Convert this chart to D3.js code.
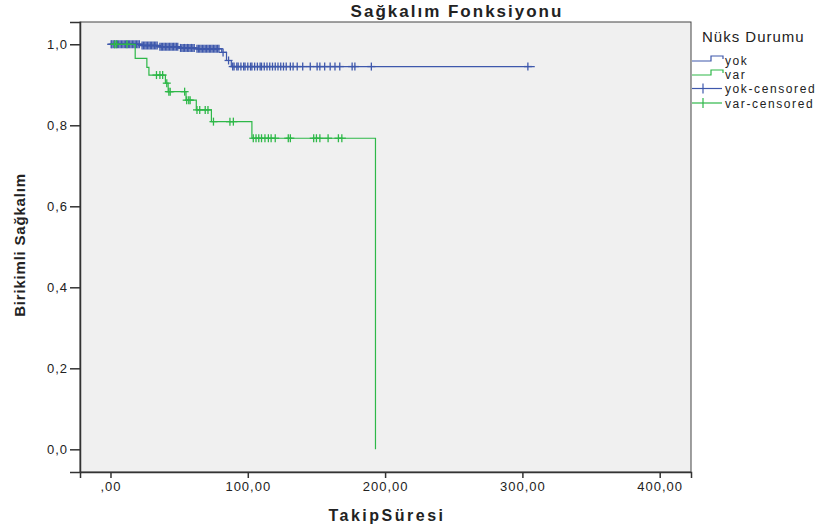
<!DOCTYPE html>
<html>
<head>
<meta charset="utf-8">
<script src="https://cdn.jsdelivr.net/npm/d3@7"></script>
<style>
  body { margin: 0; background: #fff; }
  text { font-family: "Liberation Sans", Arial, sans-serif; fill: #222; }
</style>
</head>
<body>
<svg id="chart"></svg>
<script>
// Kaplan-Meier survival data

// yok group: event times and survival after each step
const yokStepTimes = [0, 22, 35, 50, 62, 81, 84.5, 88];
const yokStepSurv = [1.0, 0.997, 0.994, 0.991, 0.989, 0.980, 0.960, 0.945];
const yokEndTime = 309;
const yokCensored = [0.5, 1, 2, 3, 4, 5, 6, 7, 8, 9, 10, 11, 12, 13, 14, 15, 16, 17, 18, 19, 20, 21,
  23, 24, 25, 26, 27, 28, 29, 30, 31, 32, 33, 34,
  36, 37, 38, 39, 40, 41, 42, 43, 44, 45, 46, 47, 48, 49,
  51, 52, 53, 54, 55, 56, 57, 58, 59, 60, 61,
  63, 64, 65, 66, 67, 68, 69, 70, 71, 72, 73, 74, 75, 76, 77, 78, 79,
  82, 86,
  89, 90, 92, 93, 95, 97, 98, 100, 102, 103, 105, 107, 109, 110, 112, 114, 116, 118, 120, 122,
  124, 126, 128, 131, 133, 136, 140, 145.5, 150.5, 152.5, 156, 160, 163.5, 167, 176, 178, 190, 304];

// var group
const varStepTimes = [0, 18, 26.5, 28, 40, 42, 55, 62.5, 73.5, 103, 193];
const varStepSurv = [1.0, 0.965, 0.943, 0.924, 0.904, 0.883, 0.862, 0.838, 0.809, 0.768, 0.0];
const varEndTime = 193;
const varCensored = [3, 4.5, 12, 33.5, 36, 38, 41, 42.5, 43.5, 54, 55.5, 57, 58, 63, 65, 69, 71,
  75, 87, 89.5, 104, 106, 108, 110, 112.5, 115, 117, 120, 129.5, 131, 148, 150, 152.5, 158.5, 166, 168.5];

const xTicks = [0, 100, 200, 300, 400];
const yTicks = [0, 0.2, 0.4, 0.6, 0.8, 1.0];
const legendLabels = ["yok", "var", "yok-censored", "var-censored"];

const blue = "#3e58ac";
const green = "#2eb848";

const width = 830;
const height = 531;
const plot = { left: 80, top: 22, right: 691, bottom: 472 };

const svg = d3.select("#chart")
  .attr("width", width)
  .attr("height", height);

const x = d3.scaleLinear().domain([-22.2, 422.8]).range([plot.left, plot.right]);
const y = d3.scaleLinear().domain([-0.056, 1.055]).range([plot.bottom, plot.top]);

// plot background
svg.append("rect")
  .attr("x", plot.left).attr("y", plot.top)
  .attr("width", plot.right - plot.left).attr("height", plot.bottom - plot.top)
  .attr("fill", "#f0f0f0")
  .attr("stroke", "#444").attr("stroke-width", 1);

// axes
const fmtX = d => d === 0 ? ",00" : d3.format(".2f")(d).replace(".", ",");
const fmtY = d => d3.format(".1f")(d).replace(".", ",");

const xAxis = svg.append("g")
  .attr("transform", `translate(0,${plot.bottom})`)
  .call(d3.axisBottom(x).tickValues(xTicks).tickSize(6).tickPadding(4).tickFormat(fmtX));

const yAxis = svg.append("g")
  .attr("transform", `translate(${plot.left},0)`)
  .call(d3.axisLeft(y).tickValues(yTicks).tickSize(10).tickPadding(2).tickFormat(fmtY));

[xAxis, yAxis].forEach(a => {
  a.select(".domain").attr("stroke", "#333").attr("stroke-width", 1.5);
  a.selectAll(".tick line").attr("stroke", "#333").attr("stroke-width", 1.5);
  a.selectAll(".tick text")
    .style("font-family", "'Liberation Sans', Arial, sans-serif")
    .style("font-size", "13px")
    .style("letter-spacing", "1px")
    .attr("fill", "#333");
});

// survival step path
function stepPoints(times, surv, endTime) {
  const pts = times.map((t, i) => [t, surv[i]]);
  if (endTime > times[times.length - 1]) pts.push([endTime, surv[surv.length - 1]]);
  return pts;
}

function survAt(times, surv, t) {
  const i = d3.bisectRight(times, t) - 1;
  return surv[Math.max(0, i)];
}

const line = d3.line()
  .x(d => x(d[0]))
  .y(d => y(d[1]))
  .curve(d3.curveStepAfter);

const groups = [
  { times: yokStepTimes, surv: yokStepSurv, end: yokEndTime, cens: yokCensored, color: blue },
  { times: varStepTimes, surv: varStepSurv, end: varEndTime, cens: varCensored, color: green }
];

const curves = svg.append("g");

groups.forEach(g => {
  curves.append("path")
    .datum(stepPoints(g.times, g.surv, g.end))
    .attr("fill", "none")
    .attr("stroke", g.color)
    .attr("stroke-width", 1.2)
    .attr("d", line);

  const marks = curves.append("g")
    .selectAll("g")
    .data(g.cens)
    .enter()
    .append("g")
    .attr("transform", t => `translate(${x(t)},${y(survAt(g.times, g.surv, t))})`);

  marks.append("line")
    .attr("x1", -4).attr("x2", 4).attr("y1", 0).attr("y2", 0)
    .attr("stroke", g.color).attr("stroke-width", 1.3);
  marks.append("line")
    .attr("x1", 0).attr("x2", 0).attr("y1", -4).attr("y2", 4)
    .attr("stroke", g.color).attr("stroke-width", 1.3);
});

// titles
svg.append("text")
  .attr("x", 457).attr("y", 17)
  .attr("text-anchor", "middle")
  .style("font-size", "17px").style("font-weight", "bold")
  .style("letter-spacing", "2px")
  .text("Sağkalım Fonksiyonu");

svg.append("text")
  .attr("x", 387).attr("y", 521)
  .attr("text-anchor", "middle")
  .style("font-size", "16px").style("font-weight", "bold")
  .style("letter-spacing", "2.5px")
  .text("TakipSüresi");

svg.append("text")
  .attr("transform", "translate(25,245) rotate(-90)")
  .attr("text-anchor", "middle")
  .style("font-size", "15px").style("font-weight", "bold")
  .style("letter-spacing", "0.8px")
  .text("Birikimli Sağkalım");

// legend
const legend = svg.append("g");
legend.append("text")
  .attr("x", 702).attr("y", 42)
  .style("font-size", "15px")
  .style("letter-spacing", "1px")
  .text("Nüks Durumu");

const legendColors = [blue, green, blue, green];
const legendY = [60, 74, 88.5, 103];

legendLabels.forEach((lab, i) => {
  const ly = legendY[i];
  if (i < 2) {
    legend.append("path")
      .attr("d", `M692,${ly + 1}H711V${ly - 4}H723V${ly - 1}`)
      .attr("fill", "none")
      .attr("stroke", legendColors[i])
      .attr("stroke-width", 1.2);
  } else {
    legend.append("line")
      .attr("x1", 692).attr("x2", 722).attr("y1", ly).attr("y2", ly)
      .attr("stroke", legendColors[i]).attr("stroke-width", 1.2);
    legend.append("line")
      .attr("x1", 703).attr("x2", 703).attr("y1", ly - 5).attr("y2", ly + 5)
      .attr("stroke", legendColors[i]).attr("stroke-width", 1.2);
  }
  legend.append("text")
    .attr("x", 725).attr("y", ly + 4.5)
    .style("font-size", "12px")
    .style("letter-spacing", "1.6px")
    .text(lab);
});
</script>
</body>
</html>
